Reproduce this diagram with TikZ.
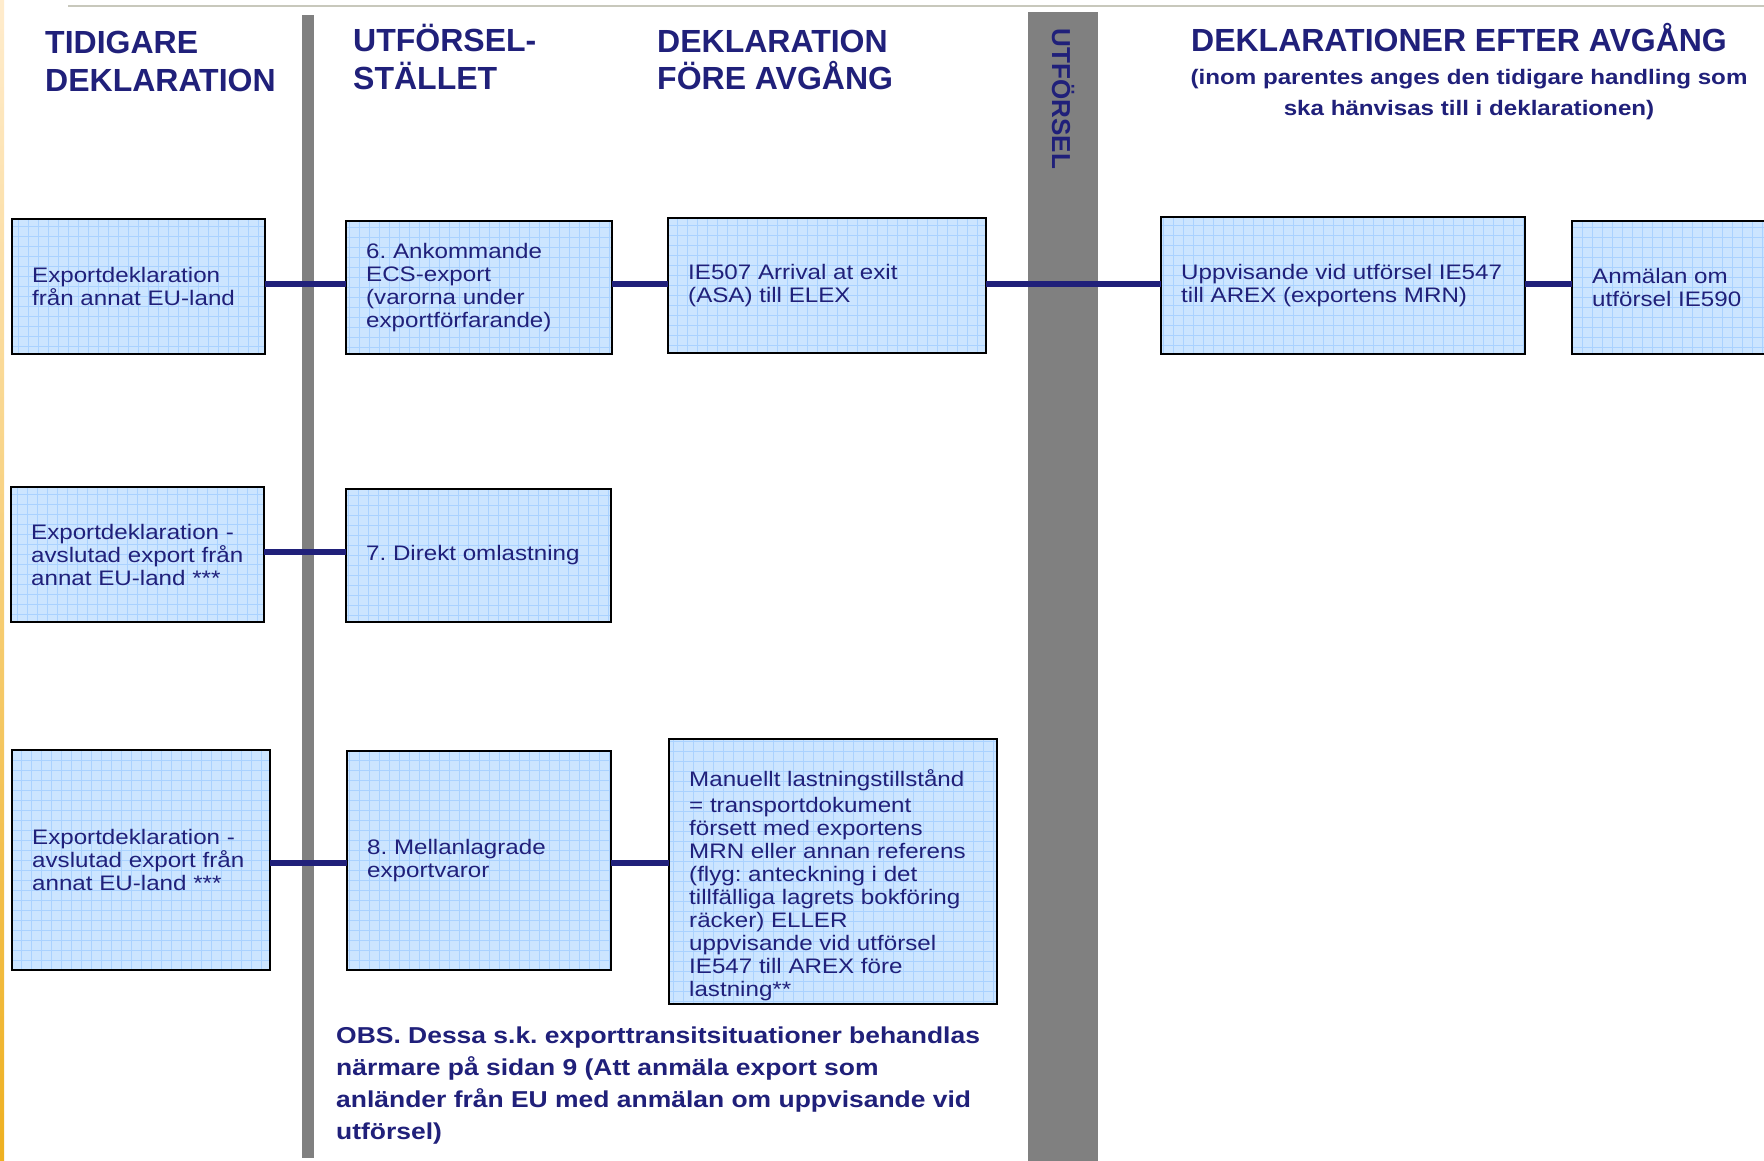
\documentclass[tikz,border=0pt]{standalone}
\usepackage{fontspec}
\setmainfont{Liberation Sans}
\newfontfamily\widesans[FakeStretch=1.15]{Liberation Sans}
\usetikzlibrary{positioning}
\frenchspacing

\definecolor{navy}{RGB}{32,32,122}
\definecolor{boxfill}{RGB}{204,229,255}
\definecolor{boxgrid}{RGB}{170,210,255}
\definecolor{bargray}{RGB}{128,128,128}
\definecolor{rulegray}{RGB}{200,200,188}
\definecolor{striptop}{RGB}{255,236,205}
\definecolor{stripbot}{RGB}{238,176,32}

\tikzset{
  declbox/.style={draw=black, line width=2pt, fill=boxfill, anchor=north west,
    inner sep=0pt, outer sep=0pt,
    path picture={\draw[boxgrid, line width=0.7pt] (path picture bounding box.south west)
      grid[step=10pt] (path picture bounding box.north east);}},
  boxtext/.style={font=\widesans\fontsize{21}{23}\selectfont, text=navy, align=left,
    anchor=west, inner sep=0pt},
  heading/.style={font=\bfseries\fontsize{32}{37.5}\selectfont, text=navy, align=left,
    anchor=base west, inner sep=0pt},
  link/.style={draw=navy, line width=6pt},
}

\begin{document}
\begin{tikzpicture}[x=1pt, y=-1pt]
        \clip (0,0) rectangle (1764,1161);
        \fill[white] (0,0) rectangle (1764,1161);

        % Page edge and top rule
        \shade[top color=striptop, bottom color=stripbot] (0,0) rectangle (4,1161);
        \draw[rulegray, line width=2.5pt] (68,6) -- (1764,6);

        % Column bars
        \fill[bargray] (302,15) rectangle (314,1158);
        \fill[bargray] (1028,12) rectangle (1098,1161);
        \node[font=\bfseries\fontsize{26}{26}\selectfont, text=navy, rotate=-90,
          anchor=base, inner sep=0pt] (utf) at (1052,99) {UTFÖRSEL};

        % Column headings (base = last line)
        \node[heading] (h1) at (45,91.5) {TIDIGARE\\DEKLARATION};
        \node[heading] (h2) at (353,89.5) {UTFÖRSEL-\\STÄLLET};
        \node[heading] (h3) at (657,90) {DEKLARATION\\FÖRE AVGÅNG};
        \node[heading, anchor=base] (h4) at (1459,52) {DEKLARATIONER EFTER AVGÅNG};
        \node[font=\widesans\bfseries\fontsize{21}{31}\selectfont, text=navy, align=center,
          anchor=base, inner sep=0pt] (h4sub) at (1469,116)
          {(inom parentes anges den tidigare handling som\\ska hänvisas till i deklarationen)};

        % First row: ECS-export
        \node[declbox, minimum width=253pt, minimum height=135pt] (e1) at (12,219) {};
        \node[boxtext] (e1txt) at ([xshift=20pt]e1.west) {Exportdeklaration\\från annat EU-land};
        \node[declbox, minimum width=266pt, minimum height=133pt] (b6) at (346,221) {};
        \node[boxtext] (b6txt) at ([xshift=20pt]b6.west)
          {6. Ankommande\\ECS-export\\(varorna under\\exportförfarande)};
        \node[declbox, minimum width=318pt, minimum height=135pt] (asa) at (668,218) {};
        \node[boxtext] (asatxt) at ([xshift=20pt]asa.west) {IE507 Arrival at exit\\(ASA) till ELEX};
        \node[declbox, minimum width=364pt, minimum height=137pt] (arex) at (1161,217) {};
        \node[boxtext] (arextxt) at ([xshift=20pt]arex.west)
          {Uppvisande vid utförsel IE547\\till AREX (exportens MRN)};
        \node[declbox, minimum width=220pt, minimum height=133pt] (ie590) at (1572,221) {};
        \node[boxtext] (ie590txt) at ([xshift=20pt]ie590.west) {Anmälan om\\utförsel IE590};

        % Second row: direkt omlastning
        \node[declbox, minimum width=253pt, minimum height=135pt] (e2) at (11,487) {};
        \node[boxtext] (e2txt) at ([xshift=20pt]e2.west)
          {Exportdeklaration -\\avslutad export från\\annat EU-land ***};
        \node[declbox, minimum width=265pt, minimum height=133pt] (b7) at (346,489) {};
        \node[boxtext] (b7txt) at ([xshift=20pt]b7.west) {7. Direkt omlastning};

        % Third row: mellanlagrade exportvaror
        \node[declbox, minimum width=258pt, minimum height=220pt] (e3) at (12,750) {};
        \node[boxtext] (e3txt) at ([xshift=20pt]e3.west)
          {Exportdeklaration -\\avslutad export från\\annat EU-land ***};
        \node[declbox, minimum width=264pt, minimum height=219pt] (b8) at (347,751) {};
        \node[boxtext] (b8txt) at ([xshift=20pt]b8.west) {8. Mellanlagrade\\exportvaror};
        \node[declbox, minimum width=328pt, minimum height=265pt] (manuell) at (669,739) {};
        \node[boxtext] (manuelltxt) at ([xshift=20pt, yshift=-14pt]manuell.west)
          {Manuellt lastningstillstånd\\[3pt]= transportdokument\\försett med exportens\\MRN eller annan referens\\(flyg: anteckning i det\\tillfälliga lagrets bokföring\\räcker) ELLER\\uppvisande vid utförsel\\IE547 till AREX före\\lastning**};

        % Connectors
        \coordinate (row1) at (0,284);
        \coordinate (row2) at (0,552);
        \coordinate (row3) at (0,863);
        \draw[link] (e1.east |- row1) -- (b6.west |- row1);
        \draw[link] (b6.east |- row1) -- (asa.west |- row1);
        \draw[link] (asa.east |- row1) -- (arex.west |- row1);
        \draw[link] (arex.east |- row1) -- (ie590.west |- row1);
        \draw[link] (e2.east |- row2) -- (b7.west |- row2);
        \draw[link] (e3.east |- row3) -- (b8.west |- row3);
        \draw[link] (b8.east |- row3) -- (manuell.west |- row3);

        % Note (base = last line)
        \node[font=\widesans\bfseries\fontsize{23}{32}\selectfont, text=navy, align=left,
          anchor=base west, inner sep=0pt] (obs) at (336,1139)
          {OBS. Dessa s.k. exporttransitsituationer behandlas\\närmare på sidan 9 (Att anmäla export som\\anländer från EU med anmälan om uppvisande vid\\utförsel)};

\end{tikzpicture}
\end{document}
